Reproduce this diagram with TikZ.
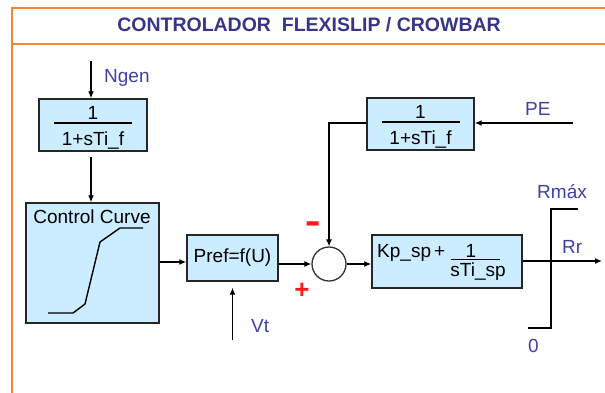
\documentclass[tikz,border=0pt]{standalone}
\usepackage{fontspec}
\setmainfont{Liberation Sans}
\usetikzlibrary{arrows.meta,calc}
\definecolor{frameor}{HTML}{F7862F}
\definecolor{boxfill}{HTML}{CCECFF}
\definecolor{lbl}{HTML}{4040A8}
\definecolor{ttl}{HTML}{363688}
\definecolor{sgn}{HTML}{FF1A1A}
\begin{document}
\begin{tikzpicture}[x=1pt,y=-1pt,
  box/.style={draw=black!85,line width=1.4pt,fill=boxfill,inner sep=0pt},
  wire/.style={line width=1.3pt},
  arr/.style={wire,-{Latex[length=7pt,width=6pt]}},
  txt/.style={inner sep=0pt,font=\fontsize{19}{21}\selectfont},
  lab/.style={txt,text=lbl},
  frm/.style={draw=frameor,line width=1.8pt},
  fracline/.style={line width=1.1pt}]
\useasboundingbox (0,0) rectangle (605,392);
\fill[white] (0,0) rectangle (605,392);
% frame
\draw[frm] (12,393) -- (12,8) -- (606,8);
\draw[frm] (12,44) -- (606,44);
\node[inner sep=0pt,font=\fontsize{19.5}{21}\selectfont\bfseries,text=ttl] (title) at (309,25) {CONTROLADOR\ \ FLEXISLIP / CROWBAR};
% boxes
\node[box,minimum width=108pt,minimum height=52pt] (f1) at (93,125) {};
\node[box,minimum width=107pt,minimum height=52pt] (f2) at (420.5,124) {};
\node[box,minimum width=133pt,minimum height=120pt] (cc) at (92.5,263) {};
\node[box,minimum width=91pt,minimum height=46pt] (pref) at (232.5,258) {};
\node[circle,draw=black!80,line width=1.3pt,fill=white,minimum size=34pt,inner sep=0pt] (sum) at (329,264) {};
\node[box,minimum width=150pt,minimum height=53pt] (kp) at (447,261.5) {};
% box texts
\node[txt,anchor=base] (f1n) at ($(f1.center)+(0,-6)$) {1};
\draw[fracline] ($(f1.center)+(-39,-2)$) -- ($(f1.center)+(39,-2)$);
\node[txt,anchor=base] (f1d) at ($(f1.center)+(0,20)$) {1+sTi\_f};
\node[txt,anchor=base] (f2n) at ($(f2.center)+(0,-6)$) {1};
\draw[fracline] ($(f2.center)+(-39,-2)$) -- ($(f2.center)+(39,-2)$);
\node[txt,anchor=base] (f2d) at ($(f2.center)+(0,20)$) {1+sTi\_f};
\node[txt,anchor=base] (cct) at (92,223) {Control Curve};
\draw[wire,line width=1.4pt] (48,313) -- (73,313) -- (85,304) -- (100,242) -- (120,228) -- (143,228);
\node[txt] (preft) at (pref.center) {Pref=f(U)};
\node[txt,anchor=base west] (kpt) at (377,257.5) {Kp\_sp\,+};
\draw[fracline] (451,259.5) -- (500,259.5);
\node[txt,anchor=base] (kpn) at (471,257.5) {1};
\node[txt,anchor=base] (kpd) at (478,276) {sTi\_sp};
% coordinates
\coordinate (ngen) at (91,61);
\coordinate (pe) at (573,123);
\coordinate (vt) at (232.5,340);
\coordinate (yl) at (0,262);
\coordinate (out) at (602,261);
% connectors
\draw[arr] (ngen) -- (ngen |- f1.north);
\draw[arr,shorten <=5pt] ([xshift=-2pt]f1.south) -- ([xshift=-1.5pt]cc.north);
\draw[arr] (cc.east |- yl) -- (pref.west |- yl);
\draw[arr] (pref.east |- sum) -- (sum.west);
\draw[arr] (sum.east) -- (kp.west |- sum);
\draw[arr,shorten >=6pt] (vt) -- (pref.south);
\draw[arr] (pe) -- (f2.east |- pe);
\draw[arr] (f2.west |- pe) -- (sum |- pe) -- (sum.north);
\draw[arr] (kp.east |- out) -- (out);
% limiter
\draw[wire] (528,328) -- (551,328) -- (551,209) -- (578,209);
% labels
\node[lab,anchor=base west] (ngenl) at (104,82) {Ngen};
\node[lab,anchor=base west] (pel) at (525,115) {PE};
\node[lab,anchor=base west] (rmax) at (537,198) {Rmáx};
\node[lab,anchor=base west] (rr) at (562,253) {Rr};
\node[lab,anchor=base west] (zero) at (528,352) {0};
\node[lab,anchor=base west] (vtl) at (251,332) {Vt};
\node[inner sep=0pt,text=sgn,font=\fontsize{24}{24}\selectfont\bfseries,yscale=1.8] (minus) at (313,229) {–};
\node[inner sep=0pt,text=sgn,font=\fontsize{26}{26}\selectfont\bfseries] (plus) at (302,291) {+};
\end{tikzpicture}
\end{document}
